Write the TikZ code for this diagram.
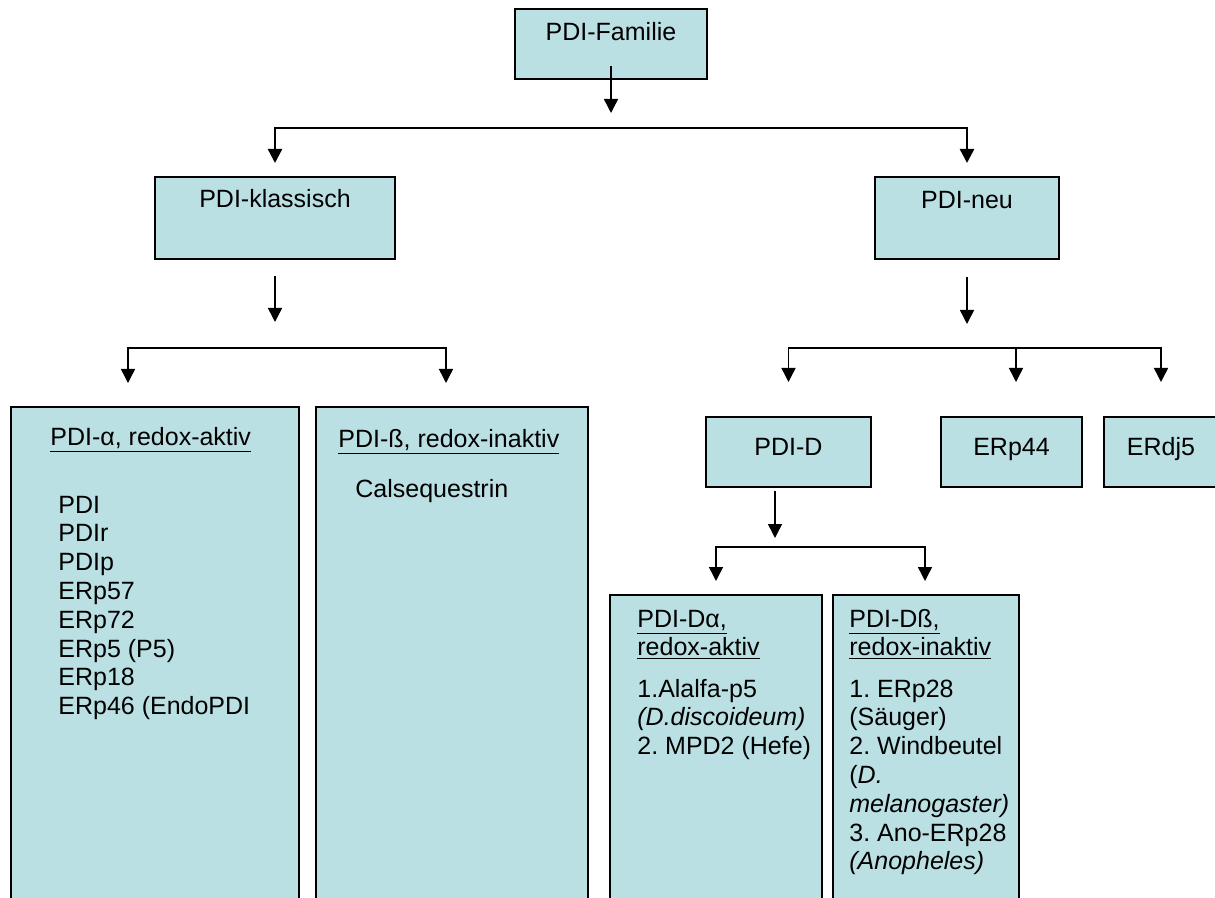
\documentclass[tikz,border=0pt]{standalone}
\usepackage{fontspec}
\setmainfont{Liberation Sans}
\usetikzlibrary{arrows.meta,calc,positioning}
\definecolor{boxfill}{RGB}{187,224,227}
\frenchspacing

\begin{document}
\begin{tikzpicture}[
  x=0.5pt, y=-0.5pt,
  font=\fontsize{12.5pt}{14.4pt}\selectfont,
  >={Triangle[width=7pt,length=7pt]},
  box/.style={draw, line width=0.9pt, fill=boxfill, anchor=north west, inner sep=0pt, outer sep=0pt},
  lbl/.style={inner sep=0pt, anchor=base},
  lst/.style={inner sep=0pt, anchor=base west},
  arr/.style={->, line width=0.75pt},
  fork/.style={<->, line width=0.75pt}
]
\useasboundingbox (0,0) rectangle (1215,898);
\clip (0,0) rectangle (1215,898);
\fill[white] (0,0) rectangle (1215,898);

% top levels
\node[box, minimum width=96pt, minimum height=35pt] (fam) at (515,9) {};
\node[lbl] (fam-t) at ([yshift=-16pt]fam.north) {PDI-Familie};
\node[box, minimum width=120pt, minimum height=41pt] (klass) at (155,177) {};
\node[lbl] (klass-t) at ([yshift=-15.5pt]klass.north) {PDI-klassisch};
\node[box, minimum width=92pt, minimum height=41pt] (neu) at (875,177) {};
\node[lbl] (neu-t) at ([yshift=-16pt]neu.north) {PDI-neu};

% classic branch
\node[box, minimum width=144pt, minimum height=249pt] (alpha) at (11,407) {};
\node[lst] (alpha-h) at ([xshift=19.5pt,yshift=-19pt]alpha.north west) {\underline{PDI-α, redox-aktiv}};
\node[lst] (alpha-l) at ([xshift=23.5pt,yshift=-53pt]alpha.north west)
  {\begin{tabular}[t]{@{}l@{}}PDI\\PDIr\\PDIp\\ERp57\\ERp72\\ERp5 (P5)\\ERp18\\ERp46 (EndoPDI\end{tabular}};
\node[box, minimum width=136pt, minimum height=249pt] (beta) at (316,407) {};
\node[lst] (beta-h) at ([xshift=11pt,yshift=-20pt]beta.north west) {\underline{PDI-ß, redox-inaktiv}};
\node[lst] (beta-l) at ([xshift=19.5pt,yshift=-45pt]beta.north west) {Calsequestrin};

% new branch
\node[box, minimum width=82.5pt, minimum height=35pt] (pdid) at (706,417) {};
\node[lbl] (pdid-t) at ([yshift=-19pt]pdid.north) {PDI-D};
\node[box, minimum width=70.5pt, minimum height=35pt] (erp44) at (941,417) {};
\node[lbl] (erp44-t) at ([yshift=-19pt]erp44.north) {ERp44};
\node[box, minimum width=57pt, minimum height=35pt] (erdj5) at (1104,417) {};
\node[lbl] (erdj5-t) at ([yshift=-19pt]erdj5.north) {ERdj5};

\node[box, minimum width=106pt, minimum height=155pt] (dalpha) at (610,595) {};
\node[lst] (dalpha-h) at ([xshift=13.5pt,yshift=-16pt]dalpha.north west)
  {\begin{tabular}[t]{@{}l@{}}\underline{PDI-Dα,}\\\underline{redox-aktiv}\end{tabular}};
\node[lst] (dalpha-l) at ([xshift=13.5pt,yshift=-51pt]dalpha.north west)
  {\begin{tabular}[t]{@{}l@{}}1.Alalfa-p5\\\textit{(D.discoideum)}\\2. MPD2 (Hefe)\end{tabular}};
\node[box, minimum width=93pt, minimum height=155pt] (dbeta) at (833,595) {};
\node[lst] (dbeta-h) at ([xshift=8pt,yshift=-16pt]dbeta.north west)
  {\begin{tabular}[t]{@{}l@{}}\underline{PDI-Dß,}\\\underline{redox-inaktiv}\end{tabular}};
\node[lst] (dbeta-l) at ([xshift=8pt,yshift=-51pt]dbeta.north west)
  {\begin{tabular}[t]{@{}l@{}}1. ERp28\\(Säuger)\\2. Windbeutel\\(\textit{D.}\\\textit{melanogaster)}\\3. Ano-ERp28\\\textit{(Anopheles)}\end{tabular}};

% split points
\coordinate (fam-split) at (611,128);
\coordinate (kl-split) at (275,348);
\coordinate (alpha-in) at (128,383);
\coordinate (beta-in) at (446,383);
\coordinate (neu-split) at (967,348);
\coordinate (erp44-in) at (1016,382);
\coordinate (d-split) at (775,547);
\coordinate (dalpha-in) at (716,581);
\coordinate (dbeta-in) at (925,581);

% connectors
\draw[arr] ([yshift=6.5pt]fam.south) -- ([yshift=7.5pt]fam-split);
\draw[fork, line width=1.2pt] ([yshift=7pt]klass.north) |- (fam-split) -| ([yshift=7pt]neu.north);
\draw[arr] ([yshift=-8.5pt]klass.south) -- ([yshift=13pt]kl-split);
\draw[fork] (alpha-in) |- (kl-split) -| (beta-in);
\draw[arr] ([yshift=-9pt]neu.south) -- ([yshift=12pt]neu-split);
\draw[fork] ([yshift=17.5pt]pdid.north) |- (neu-split) -| ([yshift=17.5pt]erdj5.north);
\draw[arr] (erp44-in |- neu-split) -- (erp44-in);
\draw[arr] ($(pdid.south -| d-split)+(0,4)$) -- ([yshift=4.5pt]d-split);
\draw[fork] (dalpha-in) |- (d-split) -| (dbeta-in);
\end{tikzpicture}
\end{document}
